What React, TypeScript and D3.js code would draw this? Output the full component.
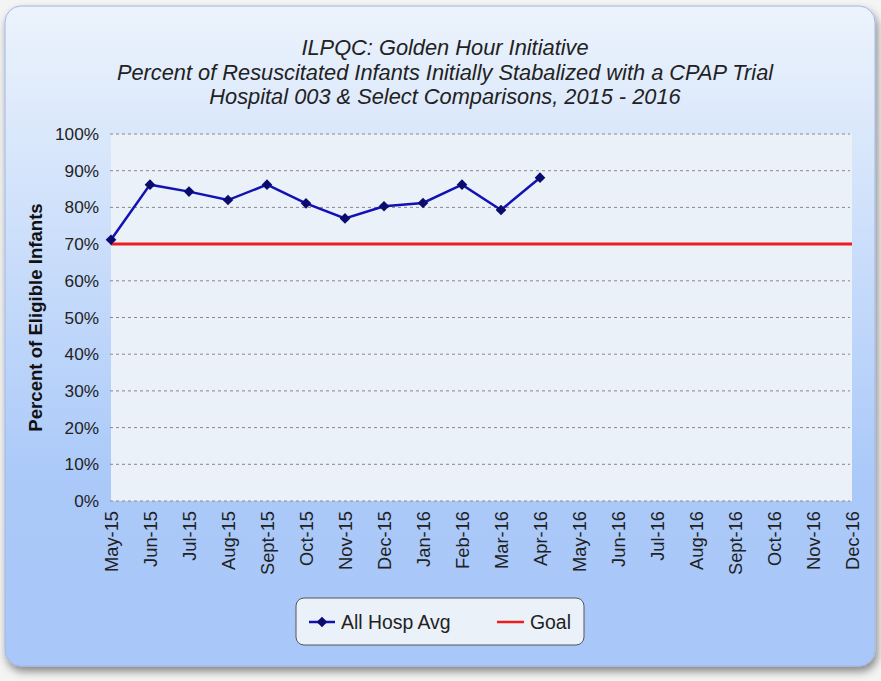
import React from "react";
import * as d3 from "d3";

const months = ["May-15","Jun-15","Jul-15","Aug-15","Sept-15","Oct-15","Nov-15","Dec-15","Jan-16","Feb-16","Mar-16","Apr-16","May-16","Jun-16","Jul-16","Aug-16","Sept-16","Oct-16","Nov-16","Dec-16"];
const allHospAvg = [71.2, 86.2, 84.3, 82.0, 86.2, 81.1, 77.0, 80.3, 81.2, 86.2, 79.3, 88.1];
const goal = 70;
const yTicks = [0,10,20,30,40,50,60,70,80,90,100];
const titleLines = [
  "ILPQC: Golden Hour Initiative",
  "Percent of Resuscitated Infants Initially Stabalized with a CPAP Trial",
  "Hospital 003 & Select Comparisons, 2015 - 2016",
];

const W = 881, H = 681;
const plot = { left: 111, right: 852, top: 134, bottom: 501 };
const font = "'Liberation Sans', Arial, sans-serif";

export default function App() {
  const x = d3.scalePoint<string>().domain(months).range([plot.left, plot.right]);
  const y = d3.scaleLinear().domain([0, 100]).range([plot.bottom, plot.top]);
  const line = d3.line<number>().x((_, i) => x(months[i])!).y((d) => y(d));
  const diamond = d3.symbol().type(d3.symbolDiamond2).size(72)();

  return (
    <svg width={W} height={H} style={{ position: "absolute", left: 0, top: 0, fontFamily: font }}>
      <defs>
        <linearGradient id="panel" x1="0" y1="0" x2="0" y2="1">
          <stop offset="0" stopColor="#ecf3fc" />
          <stop offset="0.72" stopColor="#aac9f9" />
          <stop offset="1" stopColor="#a9c8f9" />
        </linearGradient>
        <filter id="shadow" x="-5%" y="-5%" width="110%" height="110%">
          <feDropShadow dx="2" dy="5" stdDeviation="4" floodColor="#000" floodOpacity="0.45" />
        </filter>
      </defs>
      <rect x={0} y={0} width={W} height={H} fill="#f4f4f4" />
      <rect x={5} y={6} width={870} height={660} rx={16} fill="url(#panel)" stroke="#9fb8de" strokeWidth={1} filter="url(#shadow)" />
      {titleLines.map((t, i) => (
        <text key={i} x={445} y={55 + i * 24.5} textAnchor="middle" fontSize={21.8} fontStyle="italic" fill="#222">{t}</text>
      ))}
      <rect x={plot.left} y={plot.top} width={plot.right - plot.left} height={plot.bottom - plot.top} fill="#eaf1f9" />
      {yTicks.map((t) => (
        <g key={t}>
          <line x1={plot.left - 1} x2={plot.right - 2} y1={y(t)} y2={y(t)} stroke="#888" strokeWidth={1} strokeDasharray="3,3" />
          <text x={99} y={y(t) + 6} textAnchor="end" fontSize={17.2} fill="#222">{t}%</text>
        </g>
      ))}
      {months.map((m) => (
        <text key={m} transform={`translate(${x(m)! + 6.5},${plot.bottom + 10}) rotate(-90)`} textAnchor="end" fontSize={18.3} fill="#222">{m}</text>
      ))}
      <text transform={`translate(42,${(plot.top + plot.bottom) / 2}) rotate(-90)`} textAnchor="middle" fontSize={18.6} fontWeight="bold" fill="#111">Percent of Eligible Infants</text>
      <line x1={plot.left} x2={plot.right} y1={y(goal)} y2={y(goal)} stroke="#ee1c1c" strokeWidth={3} />
      <path d={line(allHospAvg) || ""} fill="none" stroke="#1212b4" strokeWidth={2.5} />
      {allHospAvg.map((v, i) => (
        <path key={i} d={diamond || ""} transform={`translate(${x(months[i])},${y(v)})`} fill="#0b0b6e" />
      ))}
      <g>
        <rect x={296} y={598} width={288} height={47} rx={8} fill="#eaf1f9" stroke="#555" strokeWidth={1} />
        <line x1={309} x2={335} y1={622} y2={622} stroke="#1212b4" strokeWidth={2.5} />
        <path d={diamond || ""} transform="translate(322,622)" fill="#0b0b6e" />
        <text x={341} y={629} fontSize={19.4} fill="#222">All Hosp Avg</text>
        <line x1={497} x2={524} y1={622} y2={622} stroke="#ee1c1c" strokeWidth={2.5} />
        <text x={530} y={629} fontSize={19.4} fill="#222">Goal</text>
      </g>
    </svg>
  );
}
